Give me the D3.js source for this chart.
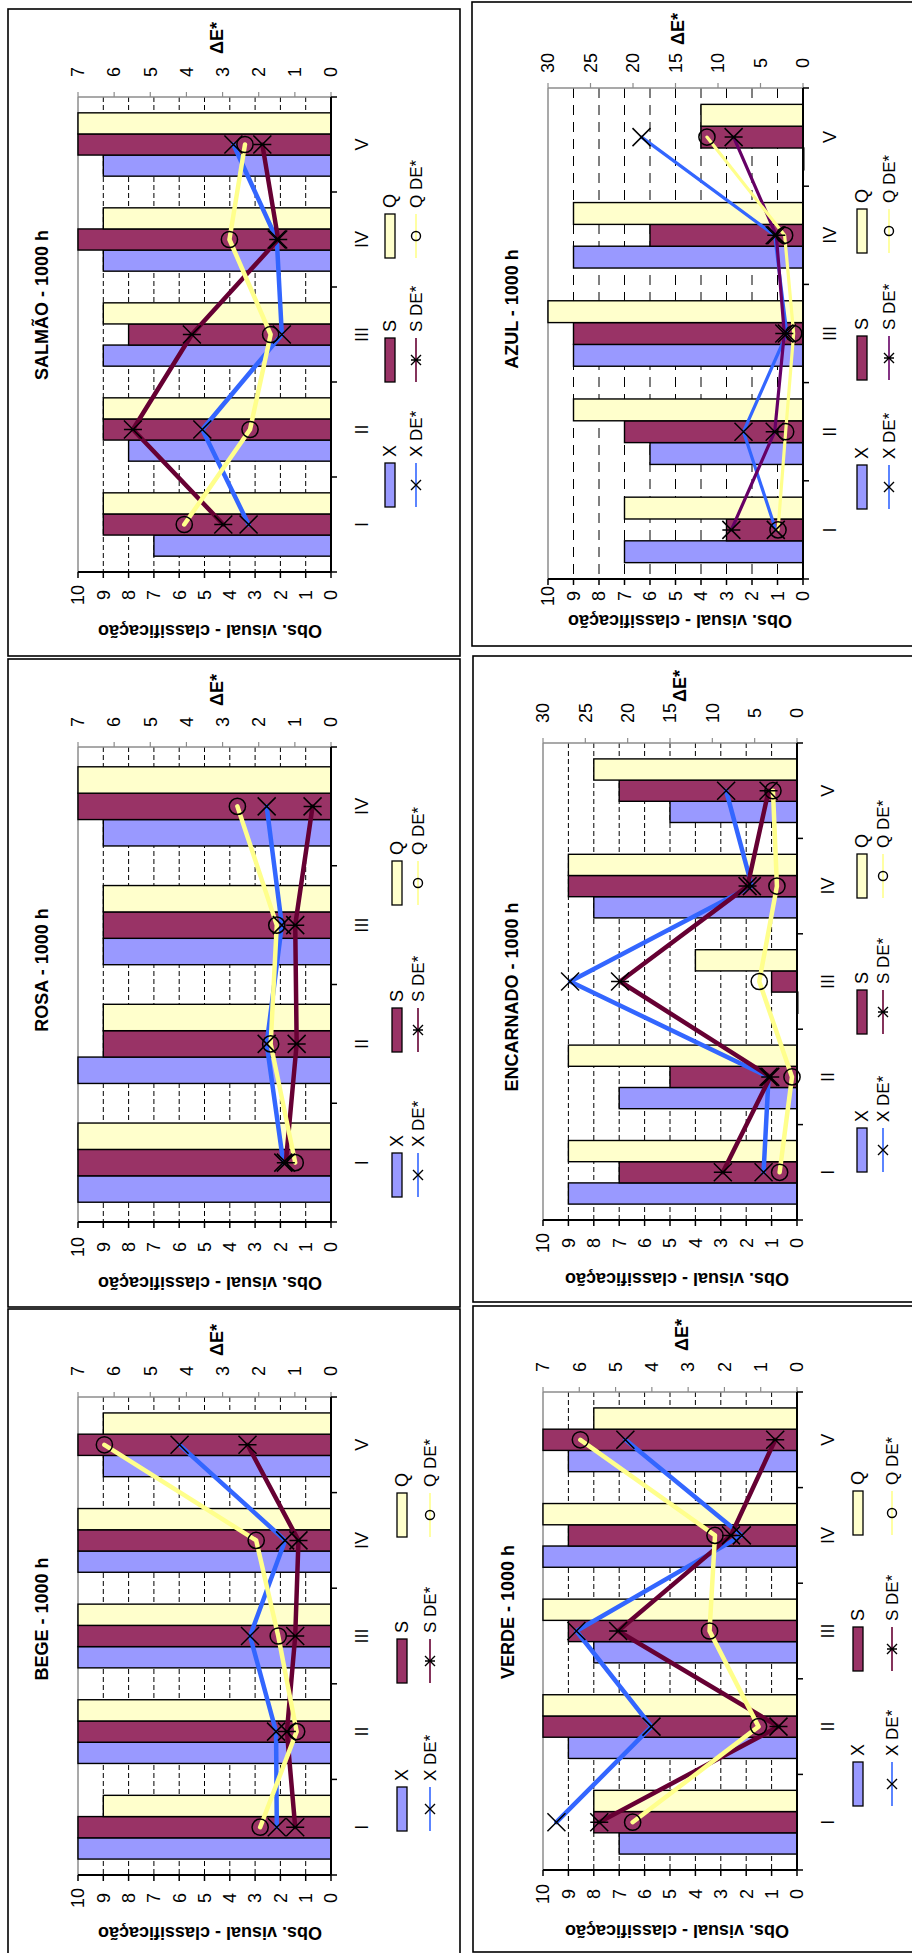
<!DOCTYPE html>
<html><head><meta charset="utf-8">
<script src="https://cdn.jsdelivr.net/npm/d3@7"></script>
<style>body{margin:0;background:#fff} svg{display:block} text{font-family:"Liberation Sans",Arial,Helvetica,sans-serif}</style>
</head><body><svg id="c" width="912" height="1953"></svg>
<script>
// ---------- DATA ----------
const cats5 = ["I", "II", "III", "IV", "V"];
const cats4 = ["I", "II", "III", "IV"];
const obsTicks = [0, 1, 2, 3, 4, 5, 6, 7, 8, 9, 10];
const deTicks7 = [0, 1, 2, 3, 4, 5, 6, 7];
const deTicks30 = [0, 5, 10, 15, 20, 25, 30];
const barLabels = ["X", "S", "Q"];
const lineLabels = ["X DE*", "S DE*", "Q DE*"];
const obsTitle = "Obs. visual - classificação";
const deTitle = "ΔE*";

// SALMÃO
const salmaoX = [7, 8, 9, 9, 9];
const salmaoS = [9, 9, 8, 10, 10];
const salmaoQ = [9, 9, 9, 9, 10];
const salmaoXDE = [2.28, 3.56, 1.36, 1.50, 2.70];
const salmaoSDE = [2.98, 5.48, 3.85, 1.46, 1.90];
const salmaoQDE = [4.06, 2.24, 1.67, 2.81, 2.38];
// ROSA
const rosaX = [10, 10, 9, 9];
const rosaS = [10, 9, 9, 10];
const rosaQ = [10, 9, 9, 10];
const rosaXDE = [1.32, 1.78, 1.36, 1.78];
const rosaSDE = [1.25, 0.95, 0.99, 0.51];
const rosaQDE = [0.99, 1.67, 1.50, 2.59];
// BEGE
const begeX = [10, 10, 10, 10, 9];
const begeS = [10, 10, 10, 10, 10];
const begeQ = [9, 10, 10, 10, 9];
const begeXDE = [1.50, 1.52, 2.24, 1.27, 4.19];
const begeSDE = [0.99, 1.22, 0.99, 0.90, 2.31];
const begeQDE = [1.96, 0.95, 1.46, 2.07, 6.27];
// AZUL
const azulX = [7, 6, 9, 9, 0];
const azulS = [3, 7, 9, 6, 4];
const azulQ = [7, 9, 10, 9, 4];
const azulXDE = [3.2, 7.0, 1.9, 3.33, 19.0];
const azulSDE = [8.43, 3.33, 2.2, 3.14, 8.16];
const azulQDE = [2.94, 2.04, 1.1, 2.16, 11.3];
// ENCARNADO
const encX = [9, 7, 0, 8, 5];
const encS = [7, 5, 1, 9, 7];
const encQ = [9, 9, 4, 9, 8];
const encXDE = [3.95, 3.36, 26.8, 5.33, 8.37];
const encSDE = [8.76, 3.16, 20.9, 5.84, 3.36];
const encQDE = [2.05, 0.59, 4.46, 2.37, 2.84];
// VERDE
const verdeX = [7, 9, 8, 10, 9];
const verdeS = [8, 10, 9, 9, 10];
const verdeQ = [8, 10, 10, 10, 8];
const verdeXDE = [6.63, 4.01, 6.08, 1.52, 4.73];
const verdeSDE = [5.45, 0.51, 4.93, 1.82, 0.60];
const verdeQDE = [4.53, 1.06, 2.41, 2.26, 5.97];

// ---------- PANELS (data + layout) ----------
const panels = [
  {title: "SALMÃO - 1000 h", cats: cats5, X: salmaoX, S: salmaoS, Q: salmaoQ, XDE: salmaoXDE, SDE: salmaoSDE, QDE: salmaoQDE, deTicks: deTicks7,
   L: {box: [8, 9, 452, 647], x10: 78, x0: 331, yTop: 97, yBot: 572, tx: 42, ty: 305, dtx: 217, dty: 38, dly: 72, vly: 595, aty: 631, atx: 210, clx: 362, swx: 390, lnx: 416, legB: [507, 382, 258], dash: "5,3"}},
  {title: "ROSA - 1000 h", cats: cats4, X: rosaX, S: rosaS, Q: rosaQ, XDE: rosaXDE, SDE: rosaSDE, QDE: rosaQDE, deTicks: deTicks7,
   L: {box: [8, 659, 452, 648], x10: 78, x0: 331, yTop: 747, yBot: 1222, tx: 42, ty: 970, dtx: 217, dty: 690, dly: 722, vly: 1247, aty: 1283, atx: 210, clx: 362, swx: 397, lnx: 418, legB: [1197, 1052, 905], dash: "5,3"}},
  {title: "BEGE - 1000 h", cats: cats5, X: begeX, S: begeS, Q: begeQ, XDE: begeXDE, SDE: begeSDE, QDE: begeQDE, deTicks: deTicks7,
   L: {box: [8, 1309, 452, 652], x10: 78, x0: 331, yTop: 1397, yBot: 1875, tx: 42, ty: 1619, dtx: 217, dty: 1340, dly: 1371, vly: 1898, aty: 1933, atx: 210, clx: 362, swx: 402, lnx: 430, legB: [1831, 1683, 1537], dash: "5,3"}},
  {title: "AZUL - 1000 h", cats: cats5, X: azulX, S: azulS, Q: azulQ, XDE: azulXDE, SDE: azulSDE, QDE: azulQDE, deTicks: deTicks30, sColor: "#660066", lw: 3.2,
   L: {box: [472, 2, 460, 644], x10: 548, x0: 803, yTop: 88, yBot: 579, tx: 512, ty: 309, dtx: 678, dty: 29, dly: 63, vly: 596, aty: 621, atx: 680, clx: 830, swx: 862, lnx: 889, legB: [509, 380, 253], dash: "10,7"}},
  {title: "ENCARNADO - 1000 h", cats: cats5, X: encX, S: encS, Q: encQ, XDE: encXDE, SDE: encSDE, QDE: encQDE, deTicks: deTicks30,
   L: {box: [473, 656, 460, 646], x10: 543, x0: 797, yTop: 743, yBot: 1220, tx: 512, ty: 997, dtx: 680, dty: 686, dly: 713, vly: 1243, aty: 1279, atx: 677, clx: 828, swx: 862, lnx: 883, legB: [1172, 1034, 898], dash: "5,3"}},
  {title: "VERDE - 1000 h", cats: cats5, X: verdeX, S: verdeS, Q: verdeQ, XDE: verdeXDE, SDE: verdeSDE, QDE: verdeQDE, deTicks: deTicks7,
   L: {box: [473, 1306, 460, 646], x10: 543, x0: 797, yTop: 1392, yBot: 1870, tx: 508, ty: 1612, dtx: 682, dty: 1335, dly: 1367, vly: 1894, aty: 1931, atx: 677, clx: 828, swx: 858, lnx: 892, legB: [1806, 1671, 1535], dash: "5,3"}}
];

// ---------- STYLES ----------
const barColor = {X: "#9999FF", S: "#993366", Q: "#FFFFCC"};
const lineColor = {X: "#3366FF", S: "#660033", Q: "#FFFF8C"};
const GRAY = "#8c8c8c";

const svg = d3.select("#c");
svg.append("rect").attr("width", 912).attr("height", 1953).attr("fill", "#fff");

function rt(g, x, y, s, o = {}) {
  return g.append("text")
    .attr("transform", `translate(${x},${y}) rotate(${o.rot ?? -90})`)
    .attr("text-anchor", o.anchor || "middle")
    .attr("dy", o.dy || "0.35em")
    .attr("font-size", o.size || 18)
    .attr("font-weight", o.bold ? "bold" : "normal")
    .attr("fill", "#000").text(s);
}

function marker(g, type, x, y, s, sw) {
  if (type === "Q") {
    g.append("circle").attr("cx", x).attr("cy", y).attr("r", s * 0.9)
      .attr("fill", "none").attr("stroke", "#000").attr("stroke-width", sw);
  } else {
    let d = `M${x - s},${y - s}L${x + s},${y + s}M${x - s},${y + s}L${x + s},${y - s}`;
    if (type === "S") d += `M${x - s},${y}L${x + s},${y}`;
    g.append("path").attr("d", d).attr("fill", "none").attr("stroke", "#000").attr("stroke-width", sw);
  }
}

panels.forEach(p => {
  const L = p.L;
  const g = svg.append("g");
  const deMax = p.deTicks[p.deTicks.length - 1];
  g.append("rect").attr("x", L.box[0]).attr("y", L.box[1]).attr("width", L.box[2]).attr("height", L.box[3])
    .attr("fill", "#fff").attr("stroke", "#000").attr("stroke-width", 1.6);

  const xv = d3.scaleLinear().domain([0, 10]).range([L.x0, L.x10]);
  const xd = d3.scaleLinear().domain([0, deMax]).range([L.x0, L.x10]);
  const yc = d3.scaleBand().domain(p.cats.slice().reverse()).range([L.yTop, L.yBot]);
  const ys = d3.scaleBand().domain(["Q", "S", "X"]).range([0, yc.bandwidth()]).paddingInner(0).paddingOuter(0.75);

  // gridlines
  obsTicks.filter(v => v > 0 && v < 10).forEach(v => {
    g.append("line").attr("x1", xv(v)).attr("x2", xv(v)).attr("y1", L.yTop).attr("y2", L.yBot)
      .attr("stroke", "#000").attr("stroke-width", 1).attr("stroke-dasharray", L.dash);
  });
  g.append("line").attr("x1", xv(10)).attr("x2", xv(10)).attr("y1", L.yTop).attr("y2", L.yBot)
    .attr("stroke", GRAY).attr("stroke-width", 1.5);

  // bars
  ["X", "S", "Q"].forEach(k => {
    p[k].forEach((v, i) => {
      const c = p.cats[i];
      const w = L.x0 - xv(v);
      g.append("rect").attr("x", xv(v)).attr("y", yc(c) + ys(k)).attr("width", Math.max(w, 0.8)).attr("height", ys.bandwidth())
        .attr("fill", barColor[k]).attr("stroke", "#000").attr("stroke-width", 1.4);
    });
  });

  // DE* axis (top, gray)
  g.append("line").attr("x1", L.x10).attr("x2", L.x0).attr("y1", L.yTop).attr("y2", L.yTop)
    .attr("stroke", GRAY).attr("stroke-width", 1.5);
  p.deTicks.forEach(v => {
    g.append("line").attr("x1", xd(v)).attr("x2", xd(v)).attr("y1", L.yTop).attr("y2", L.yTop - 5)
      .attr("stroke", GRAY).attr("stroke-width", 1.2);
    rt(g, xd(v), L.dly, String(v));
  });
  rt(g, L.dtx, L.dty, deTitle, {bold: true});

  // value axis (bottom, black)
  g.append("line").attr("x1", L.x10).attr("x2", L.x0).attr("y1", L.yBot).attr("y2", L.yBot)
    .attr("stroke", "#000").attr("stroke-width", 2);
  obsTicks.forEach(v => {
    g.append("line").attr("x1", xv(v)).attr("x2", xv(v)).attr("y1", L.yBot).attr("y2", L.yBot + 6)
      .attr("stroke", "#000").attr("stroke-width", 1.5);
    rt(g, xv(v), L.vly, String(v));
  });
  rt(g, L.atx, L.aty, obsTitle, {rot: 180, bold: true});

  // category axis (right, black)
  g.append("line").attr("x1", L.x0).attr("x2", L.x0).attr("y1", L.yTop).attr("y2", L.yBot)
    .attr("stroke", "#000").attr("stroke-width", 2);
  const bounds = p.cats.map(c => yc(c)).concat([L.yBot]);
  bounds.forEach(b => {
    g.append("line").attr("x1", L.x0).attr("x2", L.x0 + 6).attr("y1", b).attr("y2", b)
      .attr("stroke", "#000").attr("stroke-width", 1.5);
  });
  p.cats.forEach(c => rt(g, L.clx, yc(c) + yc.bandwidth() / 2, c));

  // lines
  const lw = p.lw || 4.5;
  const cy = i => yc(p.cats[i]) + yc.bandwidth() / 2;
  const line = d3.line().x(d => xd(d)).y((d, i) => cy(i));
  ["X", "S", "Q"].forEach(k => {
    const col = (k === "S" && p.sColor) ? p.sColor : lineColor[k];
    g.append("path").attr("d", line(p[k + "DE"])).attr("fill", "none")
      .attr("stroke", col).attr("stroke-width", lw).attr("stroke-linejoin", "round").attr("stroke-linecap", "round");
  });
  ["X", "S", "Q"].forEach(k => {
    p[k + "DE"].forEach((v, i) => marker(g, k, xd(v), cy(i), 9, 1.5));
  });

  // title
  rt(g, L.tx, L.ty, p.title, {bold: true});

  // legend
  ["X", "S", "Q"].forEach((k, j) => {
    const b = L.legB[j];
    g.append("rect").attr("x", L.swx - 5).attr("y", b - 44).attr("width", 10).attr("height", 44)
      .attr("fill", barColor[k]).attr("stroke", "#000").attr("stroke-width", 1.3);
    rt(g, L.swx, b - 50, barLabels[j], {anchor: "start"});
    const col = (k === "S" && p.sColor) ? p.sColor : lineColor[k];
    g.append("line").attr("x1", L.lnx).attr("x2", L.lnx).attr("y1", b).attr("y2", b - 44)
      .attr("stroke", col).attr("stroke-width", 1.6);
    marker(g, k, L.lnx, b - 22, 5, 1.4);
    rt(g, L.lnx, b - 50, lineLabels[j], {anchor: "start", size: 17});
  });
});
</script></body></html>
